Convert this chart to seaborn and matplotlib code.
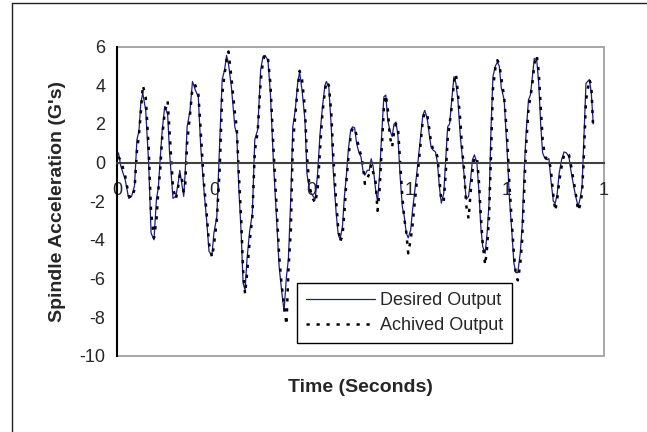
import numpy as np
import pandas as pd
import matplotlib
matplotlib.use("Agg")
import matplotlib.pyplot as plt
import seaborn as sns
from matplotlib.patches import Rectangle
from matplotlib.lines import Line2D
from matplotlib.ticker import FormatStrFormatter

# time in seconds
time_s = [
    0.003, 0.008, 0.017, 0.024, 0.030, 0.036, 0.041, 0.045, 0.049, 0.053,
    0.059, 0.065, 0.070, 0.076, 0.081, 0.085, 0.089, 0.093, 0.098, 0.104,
    0.108, 0.115, 0.121, 0.126, 0.129, 0.132, 0.137, 0.140, 0.144, 0.150,
    0.155, 0.161, 0.167, 0.172, 0.178, 0.184, 0.189, 0.195, 0.199, 0.205,
    0.211, 0.216, 0.221, 0.225, 0.229, 0.235, 0.242, 0.246, 0.250, 0.255,
    0.259, 0.263, 0.267, 0.272, 0.278, 0.283, 0.289, 0.295, 0.300, 0.304,
    0.310, 0.315, 0.321, 0.327, 0.333, 0.338, 0.343, 0.348, 0.352, 0.357,
    0.361, 0.366, 0.371, 0.375, 0.380, 0.386, 0.390, 0.395, 0.399, 0.403,
    0.407, 0.412, 0.417, 0.422, 0.427, 0.430, 0.435, 0.440, 0.444, 0.450,
    0.454, 0.458, 0.463, 0.467, 0.471, 0.475, 0.480, 0.484, 0.488, 0.492,
    0.497, 0.501, 0.505, 0.509, 0.514, 0.518, 0.522, 0.526, 0.531, 0.535,
    0.539, 0.543, 0.548, 0.552, 0.556, 0.560, 0.565, 0.569, 0.573, 0.577,
    0.581, 0.586, 0.590, 0.594, 0.598, 0.603, 0.607, 0.615, 0.622, 0.628,
    0.632, 0.637, 0.641, 0.645, 0.649, 0.654, 0.658, 0.662, 0.666, 0.671,
    0.675, 0.679, 0.683, 0.688, 0.692, 0.696, 0.700, 0.705, 0.709, 0.713,
    0.717, 0.722, 0.726, 0.730, 0.734, 0.739, 0.743, 0.747, 0.751, 0.756,
    0.760, 0.764, 0.768, 0.772, 0.777, 0.781, 0.785, 0.789, 0.795, 0.801,
    0.806, 0.811, 0.815, 0.819, 0.823, 0.828, 0.832, 0.836, 0.840, 0.845,
    0.849, 0.853, 0.857, 0.862, 0.866, 0.870, 0.874, 0.879, 0.883, 0.887,
    0.891, 0.896, 0.900, 0.904, 0.908, 0.913, 0.918, 0.923, 0.928, 0.932,
    0.938, 0.942, 0.947, 0.951, 0.955, 0.959, 0.963, 0.970, 0.974, 0.978,
]

desired = [
    0.5, -0.2, -0.9, -1.85, -1.75, -1.2, 1.2, 1.6, 3.1, 3.6,
    2.7, 0.0, -3.65, -4.0, -1.9, -1.3, 0.3, 1.7, 2.9, 2.5,
    0.5, -1.85, -1.75, -1.0, -0.4, -0.9, -1.75, -0.55, 1.85, 2.7,
    4.2, 3.75, 3.4, 0.8, -1.25, -2.95, -4.6, -4.8, -3.65, -2.8,
    1.0, 4.3, 4.8, 5.55, 5.1, 3.9, 1.85, 1.5, -1.25, -3.65,
    -6.25, -6.6, -5.0, -3.65, -2.6, 1.2, 1.7, 4.8, 5.5, 5.55,
    5.3, 3.6, 0.15, -2.6, -5.4, -6.6, -7.7, -5.9, -5.0, -1.75,
    1.85, 2.7, 4.1, 4.7, 3.75, 2.2, -0.55, -1.4, -1.6, -1.75,
    -1.9, -0.55, 1.5, 2.9, 4.0, 4.2, 3.9, 1.85, -0.4, -2.6,
    -3.65, -4.0, -3.3, -1.75, -0.7, 0.65, 1.7, 1.85, 1.8, 1.0,
    0.5, 0.3, -0.4, -0.65, -0.4, -0.4, 0.2, -0.2, -1.4, -2.0,
    -0.7, 1.2, 3.4, 3.5, 2.2, 1.7, 1.35, 2.0, 2.1, 1.35,
    -0.55, -2.3, -2.8, -3.65, -3.9, -3.5, -2.45, -0.7, 1.0, 2.45,
    2.7, 2.3, 1.5, 0.8, 0.65, 0.55, 0.0, -1.25, -2.1, -1.6,
    0.15, 1.85, 2.0, 3.4, 4.45, 4.1, 3.25, 1.35, 0.3, -0.7,
    -1.9, -1.75, -0.9, 0.15, 0.4, 0.0, -1.4, -3.3, -4.35, -4.7,
    -3.65, -2.1, 1.7, 4.45, 5.0, 5.2, 5.0, 3.9, 3.25, 0.65,
    -1.9, -3.65, -5.2, -5.7, -5.7, -4.7, -3.3, -0.55, 1.5, 3.25,
    3.5, 4.45, 5.4, 5.3, 4.1, 2.0, 0.5, 0.2, 0.15, 0.2,
    -0.9, -2.0, -2.1, -1.6, -0.55, 0.15, 0.55, 0.5, 0.3, -0.4,
    -1.25, -1.75, -2.3, -1.85, -1.25, 1.5, 4.1, 4.3, 3.6, 2.0,
]

achieved = [
    0.3, 0.1, -0.7, -1.7, -1.85, -1.4, 0.6, 1.4, 2.6, 4.0,
    3.4, 0.8, -2.6, -3.9, -3.0, -1.4, -0.3, 1.4, 2.6, 3.2,
    1.6, -1.3, -1.9, -1.2, -0.6, -0.6, -1.5, -1.2, 1.0, 2.5,
    3.9, 4.0, 3.6, 1.6, -0.9, -2.6, -4.2, -4.9, -4.3, -3.0,
    -0.3, 3.5, 4.6, 5.3, 5.75, 4.4, 2.6, 1.8, -0.5, -2.9,
    -5.6, -6.8, -5.8, -4.2, -2.8, 0.6, 1.6, 4.2, 5.3, 5.6,
    5.4, 4.1, 0.9, -2.0, -4.8, -6.3, -7.4, -8.4, -5.6, -3.5,
    0.9, 2.4, 3.8, 4.75, 4.3, 2.8, 0.4, -1.2, -1.6, -1.9,
    -2.1, -1.4, 0.7, 2.6, 3.7, 4.2, 4.0, 2.6, 0.4, -2.0,
    -3.3, -4.1, -3.8, -2.6, -1.0, 0.2, 1.4, 1.8, 1.8, 1.4,
    0.7, 0.4, -0.1, -1.1, -0.8, -0.6, -0.1, -0.5, -1.0, -2.5,
    -1.5, 0.4, 2.8, 3.5, 2.8, 1.4, 0.8, 1.6, 2.0, 1.8,
    0.2, -1.8, -2.9, -3.6, -4.7, -4.0, -3.2, -1.2, 0.6, 2.2,
    2.6, 2.5, 1.8, 1.0, 0.7, 0.6, 0.3, -0.8, -2.0, -2.0,
    -0.6, 1.2, 2.0, 3.0, 4.2, 4.6, 3.6, 2.2, 0.6, -0.4,
    -2.2, -2.9, -1.6, -0.4, 0.2, 0.3, -0.9, -2.7, -4.2, -5.3,
    -4.4, -2.8, 0.4, 3.8, 4.9, 5.3, 5.1, 4.4, 3.4, 1.4,
    -1.2, -3.2, -4.7, -5.8, -6.1, -5.3, -4.0, -1.6, 0.8, 2.8,
    3.4, 4.1, 5.1, 5.55, 4.7, 2.9, 1.2, 0.3, 0.2, 0.2,
    -0.4, -1.7, -2.5, -1.9, -1.0, -0.2, 0.4, 0.5, 0.4, -0.1,
    -1.0, -1.6, -2.5, -2.2, -1.6, 0.5, 3.2, 4.3, 4.0, 1.7,
]

df = pd.DataFrame({"time": time_s, "desired": desired, "achieved": achieved})

sns.set_style("white")
plt.rcParams["font.family"] = ["Liberation Sans", "DejaVu Sans"]
plt.rcParams["axes.unicode_minus"] = False

fig = plt.figure(figsize=(6.47, 4.32), dpi=100)
ax = fig.add_axes([0.1808, 0.1766, 0.7527, 0.7153])

sns.lineplot(data=df, x="time", y="desired", ax=ax, color="#1c1c8a",
             linewidth=0.9, label="Desired Output")
sns.lineplot(data=df, x="time", y="achieved", ax=ax, color="black",
             linewidth=1.8, linestyle=(0, (1.3, 2.7)), label="Achived Output")

ax.set_xlim(0, 1.0)
ax.set_ylim(-10, 6)
ax.set_xticks(np.linspace(0, 1.0, 6))
ax.xaxis.set_major_formatter(FormatStrFormatter("%.0f"))
ax.set_yticks(np.arange(-10, 7, 2))

# Excel-like axes: x axis crosses at zero, grey plot-area frame
for side in ["top", "right"]:
    ax.spines[side].set_visible(False)
ax.spines["bottom"].set_position(("data", 0))
ax.spines["bottom"].set_color("#404040")
ax.spines["bottom"].set_linewidth(1.5)
ax.spines["left"].set_color("black")
ax.spines["left"].set_linewidth(1.5)
ax.add_patch(Rectangle((0, 0), 1, 1, transform=ax.transAxes, fill=False,
                       edgecolor="#a0a0a0", linewidth=1.3, zorder=0.5,
                       clip_on=False))

ax.tick_params(axis="x", direction="inout", length=7.2, width=1,
               color="#404040", pad=10.5, labelsize=13)
ax.tick_params(axis="y", direction="inout", length=8, width=1.2,
               color="black", pad=4.4, labelsize=13)

ax.set_xlabel("Time (Seconds)", fontsize=14, fontweight="bold")
ax.set_ylabel("Spindle Acceleration (G's)", fontsize=14, fontweight="bold")
ax.xaxis.set_label_coords(0.5, -0.074)
ax.yaxis.set_label_coords(-0.104, 0.5)

leg = ax.legend(loc="lower left", bbox_to_anchor=(0.370, 0.041),
                fontsize=13, frameon=True, fancybox=False, shadow=False,
                borderaxespad=0, handlelength=3.8, handletextpad=0.3,
                borderpad=0.5, labelspacing=0.45)
leg.get_frame().set_edgecolor("black")
leg.get_frame().set_linewidth(1.0)
leg.get_frame().set_alpha(1)

# outer chart border (only left and top edges are inside the picture)
fig.add_artist(Line2D([0.0185, 0.0185], [0, 0.992], color="#202020", linewidth=1))
fig.add_artist(Line2D([0.0185, 1], [0.992, 0.992], color="#202020", linewidth=1))

fig.savefig("out.png", dpi=100)
